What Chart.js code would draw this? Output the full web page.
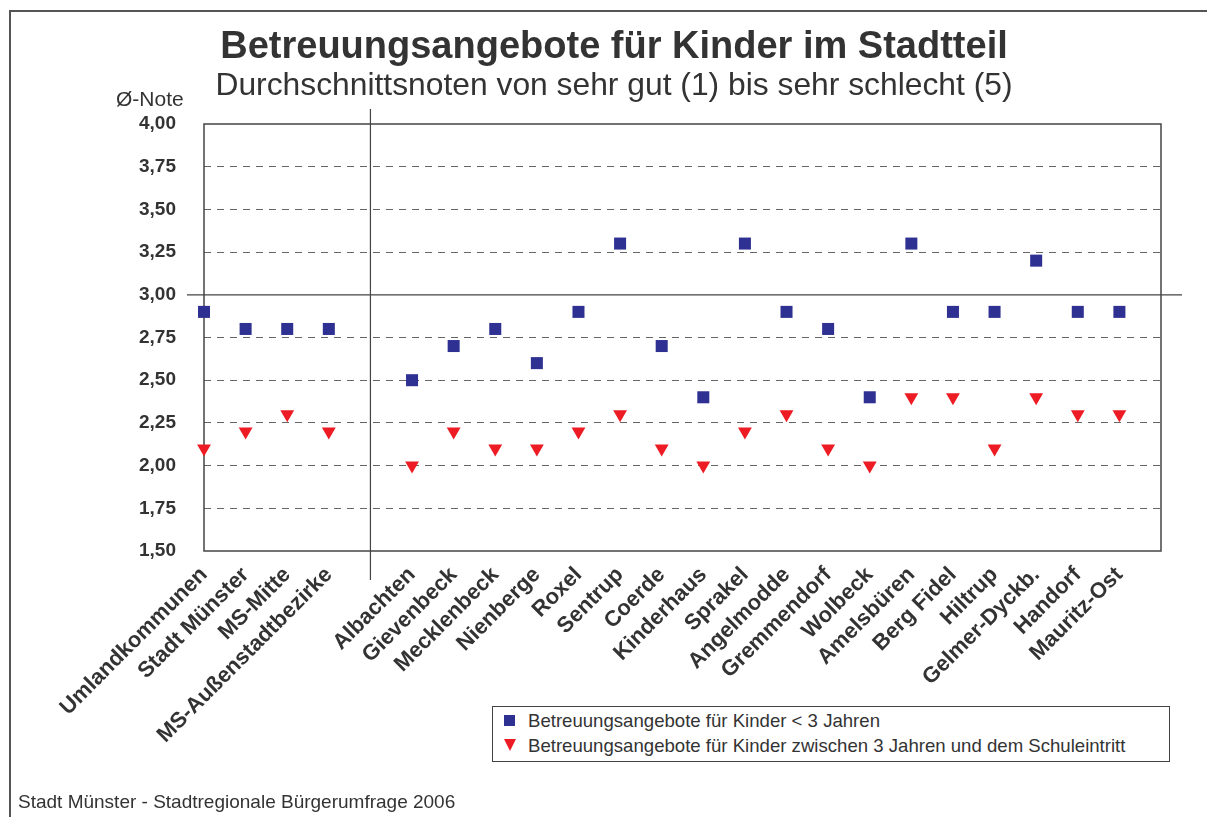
<!DOCTYPE html>
<html>
<head>
<meta charset="utf-8">
<script src="https://cdn.jsdelivr.net/npm/chart.js@4.4.1/dist/chart.umd.min.js"></script>
<style>
  body { margin: 0; background: #fff; font-family: "Liberation Sans", Arial, sans-serif; color: #333; }
  #wrap { position: relative; width: 1207px; height: 817px; overflow: hidden; }
  #chart { position: absolute; left: 0; top: 0; }
  .rahmen { position: absolute; left: 9px; top: 10px; width: 1300px; height: 900px; border-left: 2px solid #555; border-top: 2px solid #555; }
  .titel { position: absolute; left: 0; width: 1228px; top: 24px; text-align: center; font-weight: bold; font-size: 38px; color: #333; }
  .untertitel { position: absolute; left: 0; width: 1228px; top: 66px; text-align: center; font-size: 31.8px; color: #333; }
  .note { position: absolute; left: 116px; top: 87px; font-size: 21px; color: #333; }
  .quelle { position: absolute; left: 18px; top: 791px; font-size: 19px; color: #333; }
  .legende { position: absolute; left: 492px; top: 706px; width: 676px; height: 54px; border: 1.5px solid #444; background: #fff; }
  .zeile { position: absolute; left: 11px; font-size: 18.6px; color: #333; white-space: nowrap; }
  .quadrat { display: inline-block; width: 11px; height: 11px; background: #2e3192; margin-right: 13px; vertical-align: 1px; }
  .dreieck { display: inline-block; width: 0; height: 0; border-left: 6px solid transparent; border-right: 6px solid transparent; border-top: 12px solid #ed1c24; margin-right: 12px; vertical-align: 1px; }
</style>
</head>
<body>
<div id="wrap">
  <div class="rahmen"></div>
  <canvas id="chart" width="1207" height="817"></canvas>
  <div class="titel">Betreuungsangebote für Kinder im Stadtteil</div>
  <div class="untertitel">Durchschnittsnoten von sehr gut (1) bis sehr schlecht (5)</div>
  <div class="note">Ø-Note</div>
  <div class="legende">
    <div class="zeile" style="top:3px"><span class="quadrat"></span>Betreuungsangebote für Kinder &lt; 3 Jahren</div>
    <div class="zeile" style="top:28px"><span class="dreieck"></span>Betreuungsangebote für Kinder zwischen 3 Jahren und dem Schuleintritt</div>
  </div>
  <div class="quelle">Stadt Münster - Stadtregionale Bürgerumfrage 2006</div>
</div>
<script>
// Stadtteile (leerer Eintrag = Lücke zwischen Gesamtwerten und Stadtteilen)
const stadtteile = ['Umlandkommunen', 'Stadt Münster', 'MS-Mitte', 'MS-Außenstadtbezirke', '',
  'Albachten', 'Gievenbeck', 'Mecklenbeck', 'Nienberge', 'Roxel', 'Sentrup', 'Coerde',
  'Kinderhaus', 'Sprakel', 'Angelmodde', 'Gremmendorf', 'Wolbeck', 'Amelsbüren',
  'Berg Fidel', 'Hiltrup', 'Gelmer-Dyckb.', 'Handorf', 'Mauritz-Ost', ''];

// Durchschnittsnoten
const kinderUnter3 = [2.9, 2.8, 2.8, 2.8, null,
  2.5, 2.7, 2.8, 2.6, 2.9, 3.3, 2.7, 2.4, 3.3, 2.9, 2.8, 2.4, 3.3, 2.9, 2.9, 3.2, 2.9, 2.9, null];
const kinderAb3 = [2.1, 2.2, 2.3, 2.2, null,
  2.0, 2.2, 2.1, 2.1, 2.2, 2.3, 2.1, 2.0, 2.2, 2.3, 2.1, 2.0, 2.4, 2.4, 2.1, 2.4, 2.3, 2.3, null];

const yMin = 1.5, yMax = 4.0, yStep = 0.25;

// Rahmen, Trennlinie und 3,00-Linie
const rahmenPlugin = {
  id: 'rahmenPlugin',
  beforeDatasetsDraw(chart) {
    const { ctx, chartArea: a, scales: { x, y } } = chart;
    ctx.save();
    ctx.strokeStyle = '#444';
    ctx.lineWidth = 1.5;
    ctx.strokeRect(a.left, a.top, a.right - a.left, a.bottom - a.top);
    ctx.lineWidth = 1.2;
    const xs = x.getPixelForValue(4);
    ctx.beginPath();
    ctx.moveTo(xs, a.top - 15);
    ctx.lineTo(xs, a.bottom + 29);
    const y3 = y.getPixelForValue(3);
    ctx.moveTo(a.left - 17, y3);
    ctx.lineTo(a.right + 21, y3);
    ctx.stroke();
    ctx.restore();
  }
};

const ctx = document.getElementById('chart').getContext('2d');
new Chart(ctx, {
  type: 'line',
  data: {
    labels: stadtteile,
    datasets: [{
      label: 'Betreuungsangebote für Kinder < 3 Jahren',
      data: kinderUnter3,
      showLine: false,
      pointStyle: 'rect',
      pointRadius: 8.5,
      pointHoverRadius: 8.5,
      pointBackgroundColor: '#2e3192',
      pointBorderWidth: 0,
      clip: false
    }, {
      label: 'Betreuungsangebote für Kinder zwischen 3 Jahren und dem Schuleintritt',
      data: kinderAb3,
      showLine: false,
      pointStyle: 'triangle',
      pointRotation: 180,
      pointRadius: 8,
      pointHoverRadius: 8,
      pointBackgroundColor: '#ed1c24',
      pointBorderWidth: 0,
      clip: false
    }]
  },
  options: {
    responsive: false,
    devicePixelRatio: 1,
    animation: false,
    layout: { padding: { left: 0, top: 124, right: 46, bottom: 0 } },
    plugins: { legend: { display: false }, tooltip: { enabled: false } },
    scales: {
      x: {
        offset: false,
        grid: { display: false },
        border: { display: false },
        ticks: {
          autoSkip: false,
          maxRotation: 45,
          minRotation: 45,
          padding: 3,
          color: '#333',
          font: { family: 'Liberation Sans', size: 22, weight: 'bold' }
        },
        afterFit(scale) {
          scale.height = 266;
          scale.paddingLeft = 0;
          scale.paddingRight = 0;
        }
      },
      y: {
        min: yMin,
        max: yMax,
        border: { display: false, dash: [7, 6] },
        grid: {
          drawTicks: false,
          lineWidth: 1,
          color: (c) => (c.tick && [yMin, 3, yMax].includes(c.tick.value)) ? 'rgba(0,0,0,0)' : '#666'
        },
        ticks: {
          stepSize: yStep,
          padding: 28,
          color: '#333',
          font: { family: 'Liberation Sans', size: 19, weight: 'bold' },
          callback: (v) => v.toFixed(2).replace('.', ',')
        },
        afterFit(scale) { scale.width = 204; }
      }
    }
  },
  plugins: [rahmenPlugin]
});
</script>
</body>
</html>
